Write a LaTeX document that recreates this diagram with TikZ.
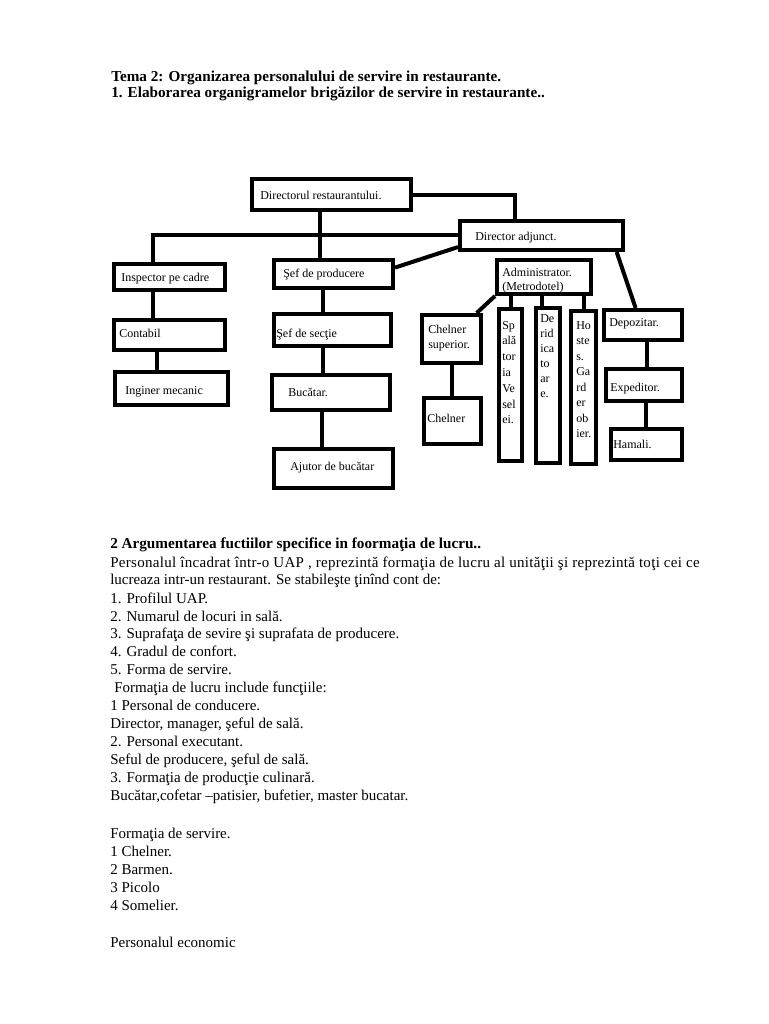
\documentclass[tikz,border=0pt]{standalone}
\usepackage{fontspec}
\setmainfont{Liberation Serif}
\usetikzlibrary{calc,fit}
\begin{document}
\begin{tikzpicture}[x=0.75pt,y=-0.75pt,
  box/.style={draw, line width=3pt, inner sep=0pt},
  wire/.style={line width=3pt},
  lbl/.style={font=\fontsize{9}{11}\selectfont, inner sep=0pt, anchor=base west},
  body/.style={font=\fontsize{11.25}{13}\selectfont, inner sep=0pt, anchor=base west},
  head/.style={font=\fontsize{11.4}{13}\selectfont\bfseries, inner sep=0pt, anchor=base west}]
\useasboundingbox (0,0) rectangle (768,1024);

% headings
\node[head] (h1) at (111,81) {Tema 2: Organizarea personalului de servire in restaurante.};
\node[head] (h2) at (111,98) {1. Elaborarea organigramelor brigăzilor de servire in restaurante..};

% boxes
\node[box, fit={(252,179)(411,210)}] (dir) {};
\node[box, fit={(460,221)(623,250)}] (adj) {};
\node[box, fit={(114,264)(225,290)}] (insp) {};
\node[box, fit={(274,260)(393,288)}] (sefp) {};
\node[box, fit={(497,260)(591,294)}] (admin) {};
\node[box, fit={(114,320)(225,350)}] (contabil) {};
\node[box, fit={(115,372)(228,405)}] (inginer) {};
\node[box, fit={(274,314)(391,346)}] (sefs) {};
\node[box, fit={(272,375)(390,410)}] (bucatar) {};
\node[box, fit={(274,449)(393,488)}] (ajutor) {};
\node[box, fit={(422,315)(481,363)}] (chsup) {};
\node[box, fit={(424,398)(481,444)}] (chelner) {};
\node[box, fit={(499,309)(522,461)}] (spal) {};
\node[box, fit={(536,308)(560,463)}] (derid) {};
\node[box, fit={(571,311)(596,464)}] (hostes) {};
\node[box, fit={(604,310)(682,340)}] (depoz) {};
\node[box, fit={(606,369)(682,401)}] (exped) {};
\node[box, fit={(611,429)(682,460)}] (hamali) {};

% connector guide coordinates
\coordinate (bx) at (153,235);
\coordinate (v1) at (320,0);
\coordinate (v2) at (515,0);
\coordinate (v3) at (542,0);
\coordinate (v4) at (647,0);
\coordinate (v5) at (646,0);
\coordinate (v6) at (157,0);
\coordinate (v7) at (323,0);
\coordinate (v8) at (322,0);

% connectors
\draw[wire] (insp.north -| bx) -- (bx) -- (adj.west |- bx);
\draw[wire] (dir.south -| v1) -- (sefp.north -| v1);
\draw[wire] (dir.east) -| (v2 |- adj.north);
\draw[wire] ($(sefp.north east)!0.3!(sefp.south east)$) -- ($(adj.north west)!0.85!(adj.south west)$);
\draw[wire] ($(adj.south west)!0.95!(adj.south east)$) -- ($(depoz.north west)!0.41!(depoz.north east)$);
\draw[wire] (admin.south west) -- ($(chsup.north west)!0.9!(chsup.north east)$);
\draw[wire] (spal.north) -- (spal.north |- admin.south);
\draw[wire] (derid.north -| v3) -- (admin.south -| v3);
\draw[wire] (hostes.north) -- (hostes.north |- admin.south);
\draw[wire] (chsup.south) -- (chsup.south |- chelner.north);
\draw[wire] (depoz.south -| v4) -- (exped.north -| v4);
\draw[wire] (exped.south -| v5) -- (hamali.north -| v5);
\draw[wire] (insp.south -| bx) -- (contabil.north -| bx);
\draw[wire] (contabil.south -| v6) -- (inginer.north -| v6);
\draw[wire] (sefp.south -| v7) -- (sefs.north -| v7);
\draw[wire] (sefs.south -| v7) -- (bucatar.north -| v7);
\draw[wire] (bucatar.south -| v8) -- (ajutor.north -| v8);

% chart labels
\node[lbl] (tdir) at (260,199) {Directorul restaurantului.};
\node[lbl] (tadj) at (475,240) {Director adjunct.};
\node[lbl] (tinsp) at (121,281) {Inspector pe cadre};
\node[lbl] (tsefp) at (283,277) {Şef de producere};
\node[lbl] (tadm1) at (502,276) {Administrator.};
\node[lbl] (tadm2) at (502,290) {(Metrodotel)};
\node[lbl] (tcont) at (119,337) {Contabil};
\node[lbl] (tingi) at (125,394) {Inginer mecanic};
\node[lbl] (tsefs) at (276,337) {Şef de secţie};
\node[lbl] (tbuc) at (288,396) {Bucătar.};
\node[lbl] (tajut) at (290,470) {Ajutor de bucătar};
\node[lbl] (tchs1) at (428,333) {Chelner};
\node[lbl] (tchs2) at (428,348) {superior.};
\node[lbl] (tchel) at (427,422) {Chelner};
\foreach \t [count=\i] in {Sp,ală,tor,ia,Ve,sel,ei.}
  \node[lbl] (tspal\i) at (502,{329+15.8*(\i-1)}) {\t};
\foreach \t [count=\i] in {De,rid,ica,to,ar,e.}
  \node[lbl] (tder\i) at (540,{322+15*(\i-1)}) {\t};
\foreach \t [count=\i] in {Ho,ste,s.,Ga,rd,er,ob,ier.}
  \node[lbl] (thos\i) at (576,{329+15.5*(\i-1)}) {\t};
\node[lbl] (tdep) at (609,326) {Depozitar.};
\node[lbl] (texp) at (610,391) {Expeditor.};
\node[lbl] (tham) at (613,448) {Hamali.};

% body text
\node[head] (b1) at (110,548) {2 Argumentarea fuctiilor specifice in foormaţia de lucru..};
\node[body] (b2) at (110,567) {\addfontfeature{LetterSpace=2}Personalul încadrat într-o UAP , reprezintă formaţia de lucru al unităţii şi reprezintă toţi cei ce};
\node[body] (b3) at (110,584) {lucreaza intr-un restaurant. Se stabileşte ţinînd cont de:};
\node[body] (b4) at (110,603) {1. Profilul UAP.};
\node[body] (b5) at (110,621) {2. Numarul de locuri in sală.};
\node[body] (b6) at (110,638) {3. Suprafaţa de sevire şi suprafata de producere.};
\node[body] (b7) at (110,656) {4. Gradul de confort.};
\node[body] (b8) at (110,674) {5. Forma de servire.};
\node[body] (b9) at (114,692) {Formaţia de lucru include funcţiile:};
\node[body] (b10) at (110,710) {1 Personal de conducere.};
\node[body] (b11) at (110,728) {Director, manager, şeful de sală.};
\node[body] (b12) at (110,746) {2. Personal executant.};
\node[body] (b13) at (110,764) {Seful de producere, şeful de sală.};
\node[body] (b14) at (110,782) {3. Formaţia de producţie culinară.};
\node[body] (b15) at (110,800) {Bucătar,cofetar –patisier, bufetier, master bucatar.};
\node[body] (b16) at (110,838) {Formaţia de servire.};
\node[body] (b17) at (110,856) {1 Chelner.};
\node[body] (b18) at (110,874) {2 Barmen.};
\node[body] (b19) at (110,892) {3 Picolo};
\node[body] (b20) at (110,910) {4 Somelier.};
\node[body] (b21) at (110,947) {Personalul economic};
\end{tikzpicture}
\end{document}
